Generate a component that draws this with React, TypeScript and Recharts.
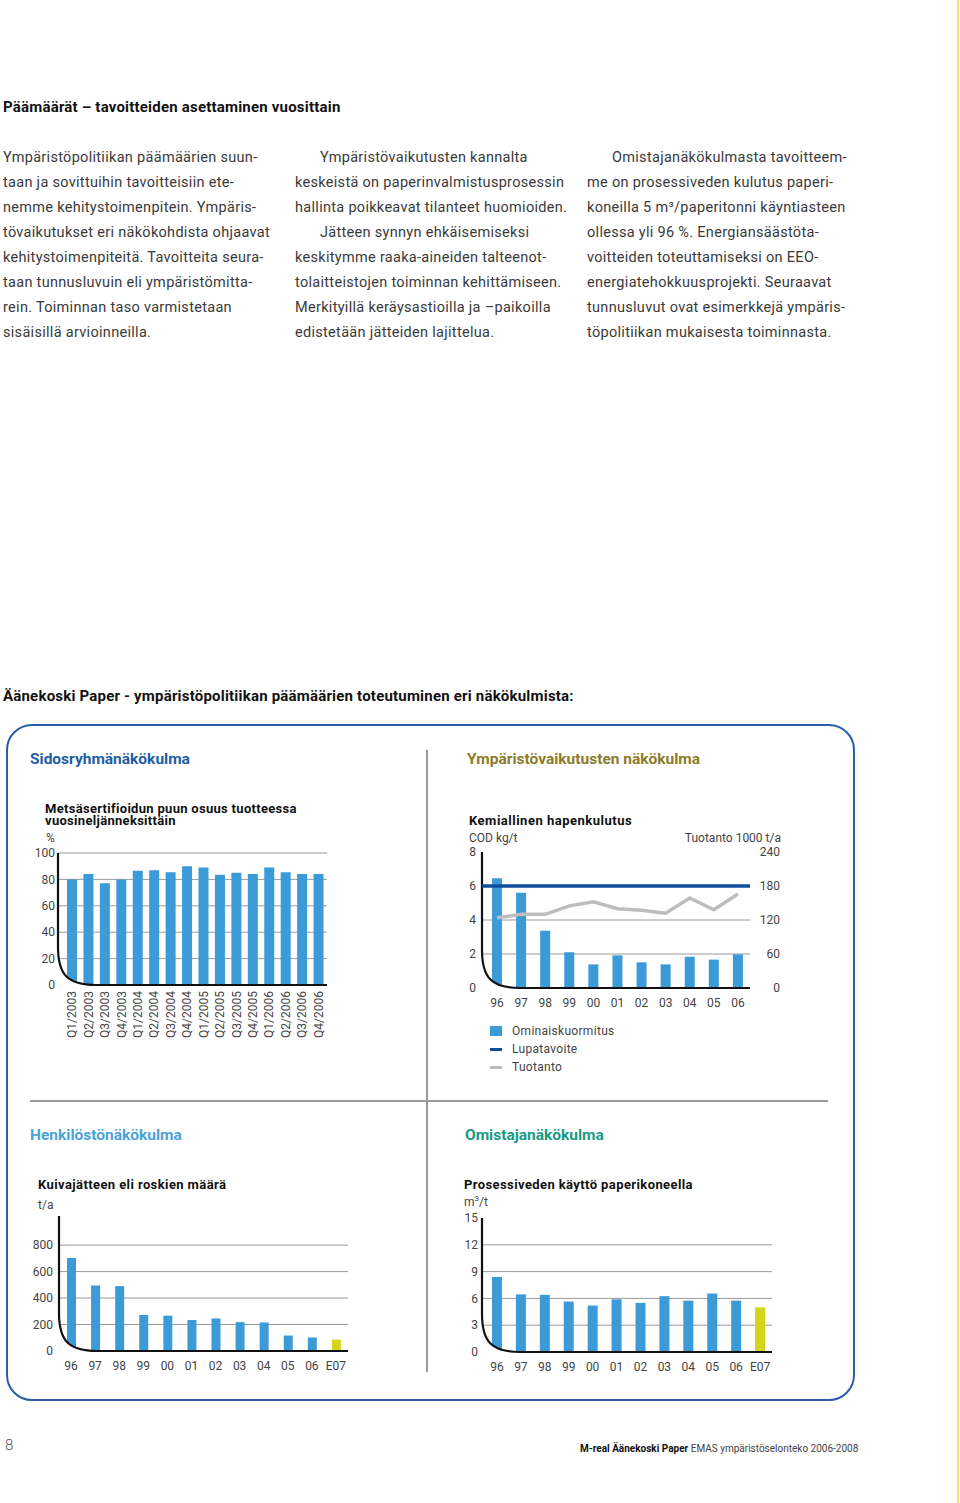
import React from "react";
import {
  Bar,
  BarChart,
  CartesianGrid,
  Cell,
  ComposedChart,
  Line,
  ReferenceArea,
  ReferenceLine,
  XAxis,
  YAxis,
} from "recharts";

// ---- data ----
const QUARTERS = [
  "Q1/2003", "Q2/2003", "Q3/2003", "Q4/2003",
  "Q1/2004", "Q2/2004", "Q3/2004", "Q4/2004",
  "Q1/2005", "Q2/2005", "Q3/2005", "Q4/2005",
  "Q1/2006", "Q2/2006", "Q3/2006", "Q4/2006",
];
const CERTIFIED_SHARE = [80, 84, 77, 80, 86.5, 87, 85.5, 90, 89, 83.5, 85, 84, 89, 85.5, 84, 84];
const SHARE_TICKS = [0, 10, 20, 30, 40, 50, 60, 70, 80, 90, 100];
const SHARE_GRID = [10, 20, 30, 40, 50, 60, 70, 80, 90, 100];

const COD_YEARS = ["96", "97", "98", "99", "00", "01", "02", "03", "04", "05", "06"];
const COD_LOAD = [6.45, 5.6, 3.37, 2.1, 1.39, 1.92, 1.51, 1.39, 1.84, 1.67, 1.98];
const PRODUCTION = [124, 130, 130, 145, 152, 140, 137, 132, 159, 138, 166];
const COD_TARGET = 6;
const COD_TICKS = [0, 2, 4, 6, 8];
const COD_GRID = [2, 4, 6];
const PROD_TICKS = [0, 60, 120, 180, 240];

const WASTE_YEARS = ["96", "97", "98", "99", "00", "01", "02", "03", "04", "05", "06", "E07"];
const DRY_WASTE = [703, 495, 490, 272, 267, 234, 246, 218, 216, 117, 102, 86];
const WASTE_TICKS = [0, 200, 400, 600, 800];
const WASTE_GRID = [200, 400, 600, 800];

const WATER_USE = [8.4, 6.45, 6.4, 5.65, 5.2, 5.9, 5.5, 6.25, 5.75, 6.55, 5.75, 5.0];
const WATER_TICKS = [0, 3, 6, 9, 12, 15];
const WATER_GRID = [3, 6, 9, 12];

const LEGEND = [
  { name: "Ominaiskuormitus", kind: "box" },
  { name: "Lupatavoite", kind: "target" },
  { name: "Tuotanto", kind: "prod" },
];

const COL1 = [
  "Ympäristöpolitiikan päämäärien suun-",
  "taan ja sovittuihin tavoitteisiin ete-",
  "nemme kehitystoimenpitein. Ympäris-",
  "tövaikutukset eri näkökohdista ohjaavat",
  "kehitystoimenpiteitä. Tavoitteita seura-",
  "taan tunnusluvuin eli ympäristömitta-",
  "rein. Toiminnan taso varmistetaan",
  "sisäisillä arvioinneilla.",
];
const COL2 = [
  "Ympäristövaikutusten kannalta",
  "keskeistä on paperinvalmistusprosessin",
  "hallinta poikkeavat tilanteet huomioiden.",
  "Jätteen synnyn ehkäisemiseksi",
  "keskitymme raaka-aineiden talteenot-",
  "tolaitteistojen toiminnan kehittämiseen.",
  "Merkityillä keräysastioilla ja –paikoilla",
  "edistetään jätteiden lajittelua.",
];
const COL2_INDENT = [0, 3];
const COL3 = [
  "Omistajanäkökulmasta tavoitteem-",
  "me on prosessiveden kulutus paperi-",
  "koneilla 5 m³/paperitonni käyntiasteen",
  "ollessa yli 96 %. Energiansäästöta-",
  "voitteiden toteuttamiseksi on EEO-",
  "energiatehokkuusprojekti. Seuraavat",
  "tunnusluvut ovat esimerkkejä ympäris-",
  "töpolitiikan mukaisesta toiminnasta.",
];

const shareData = QUARTERS.map((q, i) => ({ q, share: CERTIFIED_SHARE[i] }));
const codData = COD_YEARS.map((year, i) => ({ year, cod: COD_LOAD[i], prod: PRODUCTION[i] }));
const wasteData = WASTE_YEARS.map((year, i) => ({ year, waste: DRY_WASTE[i] }));
const waterData = WASTE_YEARS.map((year, i) => ({ year, water: WATER_USE[i] }));

const BLUE = "#3b9bd8";
const ESTIMATE = "#d4d41a";
const TARGET = "#0f4c9c";
const PROD = "#bdbdbd";
const GRID = "#9a9a9a";
const FONT = "Roboto, 'DejaVu Sans', sans-serif";
const TICK = { fontSize: 12, fill: "#444", fontFamily: FONT };

function Txt({ x, y, size = 14, weight = 400, color = "#3a3a3a", ls = 0, children, end = false }: any) {
  const h = Math.round(size * 1.25);
  const pos: React.CSSProperties = end ? { right: 960 - x } : { left: x };
  return (
    <div
      style={{
        position: "absolute",
        top: y - h / 2,
        ...pos,
        fontSize: size,
        fontWeight: weight,
        color,
        letterSpacing: ls,
        lineHeight: `${h}px`,
        whiteSpace: "nowrap",
      }}
    >
      {children}
    </div>
  );
}

// rounded black axis corner that also masks the bar feet, as in the print
function CurvedAxis(props: any) {
  const { x, y, width, height, shift = 0 } = props;
  const r = 38;
  const k = 0.26;
  const x0 = x - shift;
  const yb = y + height;
  const xr = x + width;
  const curve = `M${x0},${yb - r} C${x0},${yb - k * r} ${x0 + k * r},${yb} ${x0 + r},${yb}`;
  return (
    <g>
      <path d={`${curve} L${x0},${yb + 2} Z`} fill="#fff" stroke="none" />
      <path
        d={`M${x0},${y} L${x0},${yb - r} C${x0},${yb - k * r} ${x0 + k * r},${yb} ${x0 + r},${yb} L${xr},${yb}`}
        fill="none"
        stroke="#111"
        strokeWidth={2.2}
      />
    </g>
  );
}

function RotatedTick({ x, y, payload }: any) {
  return (
    <g transform={`translate(${x},${y})`}>
      <text transform="rotate(-90)" textAnchor="end" dy={4} style={TICK} fill="#444" fontSize={12}>
        {payload.value}
      </text>
    </g>
  );
}

function RightTick({ x, y, payload }: any) {
  return (
    <text x={x + 30} y={y} dy={4} textAnchor="end" style={TICK} fill="#444" fontSize={12}>
      {payload.value}
    </text>
  );
}

function LegendKey({ kind }: { kind: string }) {
  if (kind === "box") return <span style={{ display: "inline-block", width: 12, height: 10, background: BLUE }} />;
  const c = kind === "target" ? TARGET : PROD;
  return <span style={{ display: "inline-block", width: 12, height: 3, background: c, verticalAlign: "middle" }} />;
}

export default function App() {
  return (
    <div
      style={{
        position: "absolute",
        left: 0,
        top: 0,
        width: 960,
        height: 1503,
        background: "#fff",
        overflow: "hidden",
        fontFamily: FONT,
      }}
    >
      {/* page edge */}
      <div style={{ position: "absolute", left: 957, top: 0, width: 2, height: 1503, background: "#e6e67a" }} />

      <Txt x={3} y={107} size={15} weight={700} color="#111" ls={0.2}>
        Päämäärät – tavoitteiden asettaminen vuosittain
      </Txt>

      {COL1.map((line, i) => (
        <Txt key={i} x={3} y={158 + 25 * i} size={14.5} ls={0.3}>{line}</Txt>
      ))}
      {COL2.map((line, i) => (
        <Txt key={i} x={COL2_INDENT.includes(i) ? 320 : 295} y={158 + 25 * i} size={14.5} ls={0.3}>{line}</Txt>
      ))}
      {COL3.map((line, i) => (
        <Txt key={i} x={i === 0 ? 612 : 587} y={158 + 25 * i} size={14.5} ls={0.3}>{line}</Txt>
      ))}

      <Txt x={3} y={696} size={15} weight={700} color="#111" ls={0.2}>
        Äänekoski Paper - ympäristöpolitiikan päämäärien toteutuminen eri näkökulmista:
      </Txt>

      {/* framed panel */}
      <div
        style={{
          position: "absolute",
          left: 6,
          top: 724,
          width: 849,
          height: 677,
          border: "2px solid #2a5ea6",
          borderRadius: 26,
          boxSizing: "border-box",
        }}
      />
      <div style={{ position: "absolute", left: 426, top: 750, width: 1.5, height: 622, background: "#9a9a9a" }} />
      <div style={{ position: "absolute", left: 30, top: 1100, width: 798, height: 1.5, background: "#9a9a9a" }} />

      <Txt x={30} y={759} size={15.5} weight={700} color="#1c5ea3">Sidosryhmänäkökulma</Txt>
      <Txt x={467} y={759} size={15.5} weight={700} color="#8d7b2b">Ympäristövaikutusten näkökulma</Txt>
      <Txt x={30} y={1135} size={15.5} weight={700} color="#4aa3d8">Henkilöstönäkökulma</Txt>
      <Txt x={465} y={1135} size={15.5} weight={700} color="#179a84">Omistajanäkökulma</Txt>

      {/* chart 1 */}
      <Txt x={45} y={809} size={13} weight={700} color="#111" ls={0.3}>Metsäsertifioidun puun osuus tuotteessa</Txt>
      <Txt x={45} y={821} size={13} weight={700} color="#111" ls={0.3}>vuosineljänneksittäin</Txt>
      <Txt x={46} y={838} size={12} color="#444">%</Txt>
      <div style={{ position: "absolute", left: 10, top: 840 }}>
        <BarChart width={320} height={200} data={shareData} margin={{ top: 13, right: 3, bottom: 0, left: 0 }}>
          <CartesianGrid vertical={false} horizontalValues={SHARE_GRID} stroke={GRID} />
          <XAxis
            dataKey="q"
            interval={0}
            axisLine={false}
            tickLine={false}
            tickSize={4}
            tickMargin={2}
            height={55}
            padding={{ left: 6, right: 0 }}
            tick={<RotatedTick />}
          />
          <YAxis
            domain={[0, 100]}
            ticks={SHARE_TICKS}
            tickFormatter={(v: number) => (v % 20 === 0 ? String(v) : "")}
            axisLine={false}
            tickLine={false}
            tickSize={3}
            tickMargin={0}
            width={48}
            tick={TICK}
          />
          <Bar dataKey="share" fill={BLUE} barSize={10} isAnimationActive={false} />
          <ReferenceArea y1={0} y2={100} zIndex={1000} shape={(p: any) => <CurvedAxis {...p} shift={6} />} />
        </BarChart>
      </div>

      {/* chart 2 */}
      <Txt x={469} y={821} size={13} weight={700} color="#111" ls={0.5}>Kemiallinen hapenkulutus</Txt>
      <Txt x={469} y={838} size={12} color="#444">COD kg/t</Txt>
      <Txt x={781} y={838} size={12} color="#444" end>Tuotanto 1000 t/a</Txt>
      <div style={{ position: "absolute", left: 440, top: 840 }}>
        <ComposedChart width={380} height={173} data={codData} margin={{ top: 12, right: 0, bottom: 0, left: 0 }}>
          <CartesianGrid yAxisId="left" vertical={false} horizontalValues={COD_GRID} stroke={GRID} />
          <XAxis
            dataKey="year"
            interval={0}
            axisLine={false}
            tickLine={false}
            tickSize={4}
            tickMargin={6}
            height={25}
            padding={{ left: 3, right: 0 }}
            tick={TICK}
          />
          <YAxis
            yAxisId="left"
            domain={[0, 8]}
            ticks={COD_TICKS}
            axisLine={false}
            tickLine={false}
            tickSize={4}
            tickMargin={2}
            width={42}
            tick={TICK}
          />
          <YAxis
            yAxisId="right"
            orientation="right"
            domain={[0, 240]}
            ticks={PROD_TICKS}
            axisLine={false}
            tickLine={false}
            tickSize={0}
            tickMargin={0}
            width={70}
            tick={<RightTick />}
          />
          <Bar yAxisId="left" dataKey="cod" fill={BLUE} barSize={10} isAnimationActive={false} />
          <ReferenceArea yAxisId="left" y1={0} y2={8} zIndex={1000} shape={(p: any) => <CurvedAxis {...p} shift={3} />} />
          <ReferenceLine yAxisId="left" y={COD_TARGET} stroke={TARGET} strokeWidth={3.5} zIndex={1100} />
          <Line
            yAxisId="right"
            dataKey="prod"
            stroke={PROD}
            strokeWidth={3.5}
            dot={false}
            type="linear"
            isAnimationActive={false}
          />
        </ComposedChart>
      </div>
      {LEGEND.map((item, i) => (
        <div
          key={item.name}
          style={{
            position: "absolute",
            left: 490,
            top: 1024 + 18 * i,
            height: 14,
            display: "flex",
            alignItems: "center",
            gap: 10,
            fontSize: 12,
            letterSpacing: 0.3,
            color: "#444",
            whiteSpace: "nowrap",
          }}
        >
          <LegendKey kind={item.kind} />
          <span>{item.name}</span>
        </div>
      ))}

      {/* chart 3 */}
      <Txt x={38} y={1185} size={13} weight={700} color="#111" ls={0.4}>Kuivajätteen eli roskien määrä</Txt>
      <Txt x={38} y={1205} size={12} color="#444">t/a</Txt>
      <div style={{ position: "absolute", left: 10, top: 1200 }}>
        <BarChart width={340} height={176} data={wasteData} margin={{ top: 16, right: 2, bottom: 0, left: 0 }}>
          <CartesianGrid vertical={false} horizontalValues={WASTE_GRID} stroke={GRID} />
          <XAxis
            dataKey="year"
            interval={0}
            axisLine={false}
            tickLine={false}
            tickSize={4}
            tickMargin={6}
            height={25}
            tick={TICK}
          />
          <YAxis
            domain={[0, 1020]}
            ticks={WASTE_TICKS}
            axisLine={false}
            tickLine={false}
            tickSize={4}
            tickMargin={2}
            width={49}
            tick={TICK}
          />
          <Bar dataKey="waste" barSize={9} isAnimationActive={false}>
            {wasteData.map((d) => (
              <Cell key={d.year} fill={d.year.startsWith("E") ? ESTIMATE : BLUE} />
            ))}
          </Bar>
          <ReferenceArea y1={0} y2={1020} zIndex={1000} shape={(p: any) => <CurvedAxis {...p} />} />
        </BarChart>
      </div>

      {/* chart 4 */}
      <Txt x={464} y={1185} size={13} weight={700} color="#111" ls={0.4}>Prosessiveden käyttö paperikoneella</Txt>
      <Txt x={464} y={1198} size={12} color="#444">
        m<sup style={{ fontSize: 8 }}>3</sup>/t
      </Txt>
      <div style={{ position: "absolute", left: 440, top: 1200 }}>
        <BarChart width={332} height={177} data={waterData} margin={{ top: 18, right: 0, bottom: 0, left: 0 }}>
          <CartesianGrid vertical={false} horizontalValues={WATER_GRID} stroke={GRID} />
          <XAxis
            dataKey="year"
            interval={0}
            axisLine={false}
            tickLine={false}
            tickSize={4}
            tickMargin={6}
            height={25}
            padding={{ left: 3, right: 0 }}
            tick={TICK}
          />
          <YAxis
            domain={[0, 15]}
            ticks={WATER_TICKS}
            axisLine={false}
            tickLine={false}
            tickSize={2}
            tickMargin={2}
            width={42}
            tick={TICK}
          />
          <Bar dataKey="water" barSize={10} isAnimationActive={false}>
            {waterData.map((d) => (
              <Cell key={d.year} fill={d.year.startsWith("E") ? ESTIMATE : BLUE} />
            ))}
          </Bar>
          <ReferenceArea y1={0} y2={15} zIndex={1000} shape={(p: any) => <CurvedAxis {...p} shift={3} />} />
        </BarChart>
      </div>

      {/* footer */}
      <Txt x={5} y={1445} size={15} weight={300} color="#555">8</Txt>
      <Txt x={580} y={1448} size={10} weight={700} color="#111">
        M-real Äänekoski Paper{" "}
        <span style={{ fontWeight: 400, color: "#444" }}>EMAS ympäristöselonteko 2006-2008</span>
      </Txt>
    </div>
  );
}
